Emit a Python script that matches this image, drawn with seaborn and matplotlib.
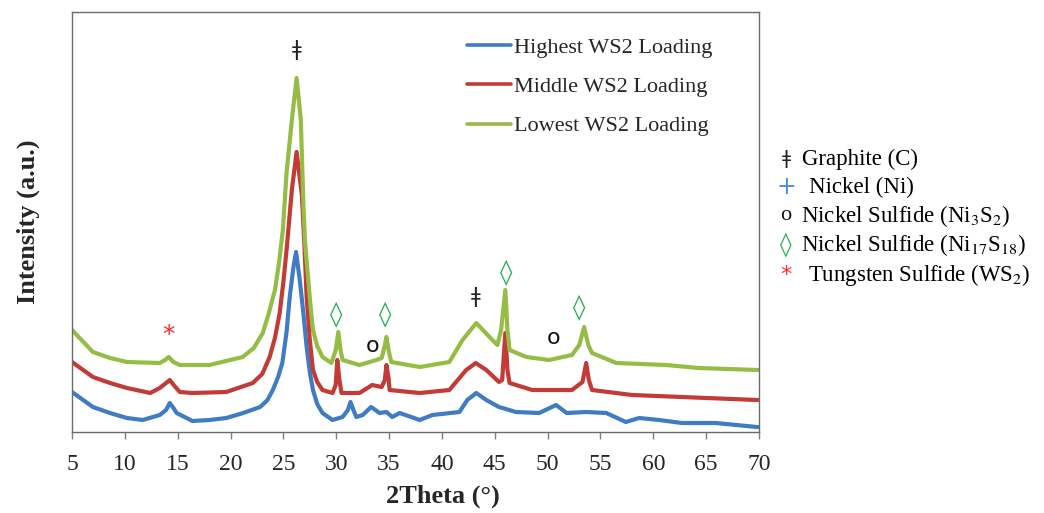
import pandas as pd
import matplotlib
matplotlib.use("Agg")
import matplotlib.pyplot as plt
import seaborn as sns

# XRD traces (2theta in degrees, intensity in a.u.)
theta_high = [5.0, 6.98, 8.59, 10.2, 11.7, 13.3, 13.9, 14.25, 14.6, 14.9, 16.4, 18.0, 19.6,
              21.2, 22.8, 23.5, 24.0, 24.5, 24.9, 25.3, 25.6, 25.95, 26.2, 26.55, 26.9, 27.2,
              27.5, 27.8, 28.2, 28.7, 29.65, 30.6, 31.1, 31.35, 31.7, 31.9, 32.5, 33.3, 34.1,
              34.75, 35.3, 36.0, 37.9, 39.1, 41.65, 42.4, 43.25, 44.2, 45.4, 47.0, 49.2, 50.8,
              51.8, 53.65, 55.55, 57.4, 58.65, 60.55, 62.7, 65.9, 69.8, 70.0]
int_high = [40, 25, 19, 14, 12, 17, 22, 29, 24, 19, 11, 12, 14,
            19, 25, 32, 42, 55, 69, 100, 135, 165, 180, 152, 118, 85,
            60, 42, 28, 19, 12, 15, 22, 30, 20, 15, 17, 25, 19,
            20, 15, 19, 12, 17, 20, 32, 39, 32, 25, 20, 19, 27,
            19, 20, 19, 10, 14, 12, 9, 9, 5, 5]

theta_mid = [5.0, 6.98, 8.6, 10.2, 12.4, 13.3, 13.9, 14.25, 14.7, 15.2, 16.4, 19.6, 22.1,
             23.0, 23.7, 24.2, 24.65, 25.0, 25.3, 25.8, 26.25, 26.75, 27.0, 27.2, 27.5, 27.8,
             28.2, 28.7, 29.65, 29.95, 30.1, 30.3, 30.5, 32.2, 33.4, 34.3, 34.6, 34.75, 34.95,
             35.05, 37.9, 40.7, 42.3, 43.2, 44.2, 45.4, 45.7, 46.0, 46.2, 46.4, 48.55, 52.3,
             53.3, 53.65, 53.9, 54.2, 58.0, 62.7, 69.8, 70.0]
int_mid = [70, 55, 49, 44, 39, 44, 49, 52, 46, 40, 39, 40, 49,
           58, 75, 94, 119, 150, 182, 242, 280, 237, 185, 135, 92, 62,
           50, 42, 39, 47, 72, 52, 39, 39, 47, 45, 52, 67, 54,
           42, 39, 42, 62, 69, 62, 50, 52, 99, 62, 49, 42, 42,
           50, 69, 52, 42, 37, 35, 32, 32]

theta_low = [5.0, 6.98, 8.6, 10.2, 13.3, 13.8, 14.15, 14.6, 15.2, 18.0, 21.15, 22.2, 23.05,
             23.6, 24.2, 24.6, 24.95, 25.3, 25.8, 26.25, 26.65, 26.9, 27.05, 27.3, 27.55,
             27.8, 28.2, 28.7, 29.55, 29.95, 30.2, 30.4, 30.6, 32.2, 33.8, 34.3, 34.6, 34.75,
             34.95, 35.2, 37.9, 40.7, 41.95, 43.25, 44.5, 45.25, 45.6, 46.0, 46.2, 46.4, 48.0,
             50.15, 52.3, 53.0, 53.45, 53.85, 54.2, 56.5, 61.2, 64.3, 69.8, 70.0]
int_low = [102, 80, 74, 70, 69, 72, 75, 70, 67, 67, 75, 84, 99,
           118, 142, 170, 202, 259, 312, 354, 312, 225, 190, 159, 128,
           102, 86, 75, 69, 82, 100, 82, 72, 67, 72, 74, 87, 95,
           82, 70, 65, 70, 92, 109, 95, 87, 102, 142, 102, 82, 75,
           72, 77, 87, 105, 87, 79, 69, 67, 64, 62, 62]

series_names = ["Highest WS2 Loading", "Middle WS2 Loading", "Lowest WS2 Loading"]
colors = ["#3F7CC4", "#C23B36", "#95BD45"]

# phase markers placed over peaks (symbol, colour, 2theta, height)
peak_marks = [
    ("\u01c2", "#222222", 26.25, 382),
    ("\u01c2", "#222222", 43.2, 135),
    ("*", "#FF2A2A", 14.15, 97),
    ("\u25ca", "#22B04B", 29.95, 117),
    ("\u25ca", "#22B04B", 34.6, 117),
    ("\u25ca", "#22B04B", 46.1, 159),
    ("\u25ca", "#22B04B", 53.0, 124),
    ("o", "#111111", 33.45, 86),
    ("o", "#111111", 50.55, 94),
]

phase_symbols = ["\u01c2", "+", "o", "\u25ca", "*"]
phase_colors = ["#222222", "#4A90D9", "#111111", "#22B04B", "#FF2A2A"]
phase_labels = ["Graphite (C)", "Nickel (Ni)", "Nickel Sulfide (Ni$_3$S$_2$)",
                "Nickel Sulfide (Ni$_{17}$S$_{18}$)", "Tungsten Sulfide (WS$_2$)"]

df = pd.concat([
    pd.DataFrame({"theta": theta_high, "intensity": int_high, "sample": series_names[0]}),
    pd.DataFrame({"theta": theta_mid, "intensity": int_mid, "sample": series_names[1]}),
    pd.DataFrame({"theta": theta_low, "intensity": int_low, "sample": series_names[2]}),
])

sns.set_style("white")
plt.rcParams["font.family"] = ["Liberation Serif", "DejaVu Sans"]
plt.rcParams["mathtext.fontset"] = "stix"

fig = plt.figure(figsize=(10.44, 5.13), dpi=100)
ax = fig.add_axes([72 / 1044, 81 / 513, 687 / 1044, 420 / 513])

sns.lineplot(data=df, x="theta", y="intensity", hue="sample", hue_order=series_names,
             palette=dict(zip(series_names, colors)), estimator=None, sort=False,
             linewidth=3.0, ax=ax)

ax.set_xlim(5, 70)
ax.set_ylim(0, 420)
ax.set_xticks(range(5, 71, 5))
ax.set_yticks([])
ax.tick_params(axis="x", direction="out", length=5, width=1, color="#7f7f7f",
               labelsize=17, pad=11, bottom=True)
for sp in ax.spines.values():
    sp.set_color("#6b6b6b")
    sp.set_linewidth(1.0)

ax.set_xlabel("2Theta (\u00b0)", fontsize=19, fontweight="bold")
ax.xaxis.set_label_coords(0.54, -0.125)
ax.set_ylabel("Intensity (a.u.)", fontsize=19, fontweight="bold")
ax.yaxis.set_label_coords(-0.047, 0.5)

leg = ax.legend(loc="upper left", bbox_to_anchor=(467 / 1044, 1 - 37 / 513),
                bbox_transform=fig.transFigure, frameon=False, fontsize=16,
                handlelength=2.0, handletextpad=0.1, labelspacing=0.85,
                borderpad=0, borderaxespad=0)
for line in leg.get_lines():
    line.set_linewidth(2.6)

for sym, col, tx, ty in peak_marks:
    if sym == "\u01c2":
        fs = 15
    elif sym == "\u25ca":
        fs = 18
    elif sym == "o":
        fs = 16
    else:
        fs = 18
    ax.text(tx, ty, sym, color=col, fontsize=fs, ha="center", va="center",
            family=["DejaVu Sans"])

rows_y = [159, 187, 216, 245, 275]
text_x = [802, 809, 801, 801, 808]
sym_sizes = [14, 17, 16, 17, 16]
for sym, col, lab, yy, xx, ss in zip(phase_symbols, phase_colors, phase_labels, rows_y,
                                     text_x, sym_sizes):
    fig.text(786 / 1044, 1 - yy / 513, sym, color=col, fontsize=ss,
             ha="center", va="center",
             family=["Liberation Serif"] if sym == "o" else ["DejaVu Sans"])
    fig.text(xx / 1044, 1 - yy / 513, lab, color="black", fontsize=16.5,
             ha="left", va="center")

fig.savefig("out.png", dpi=100)
